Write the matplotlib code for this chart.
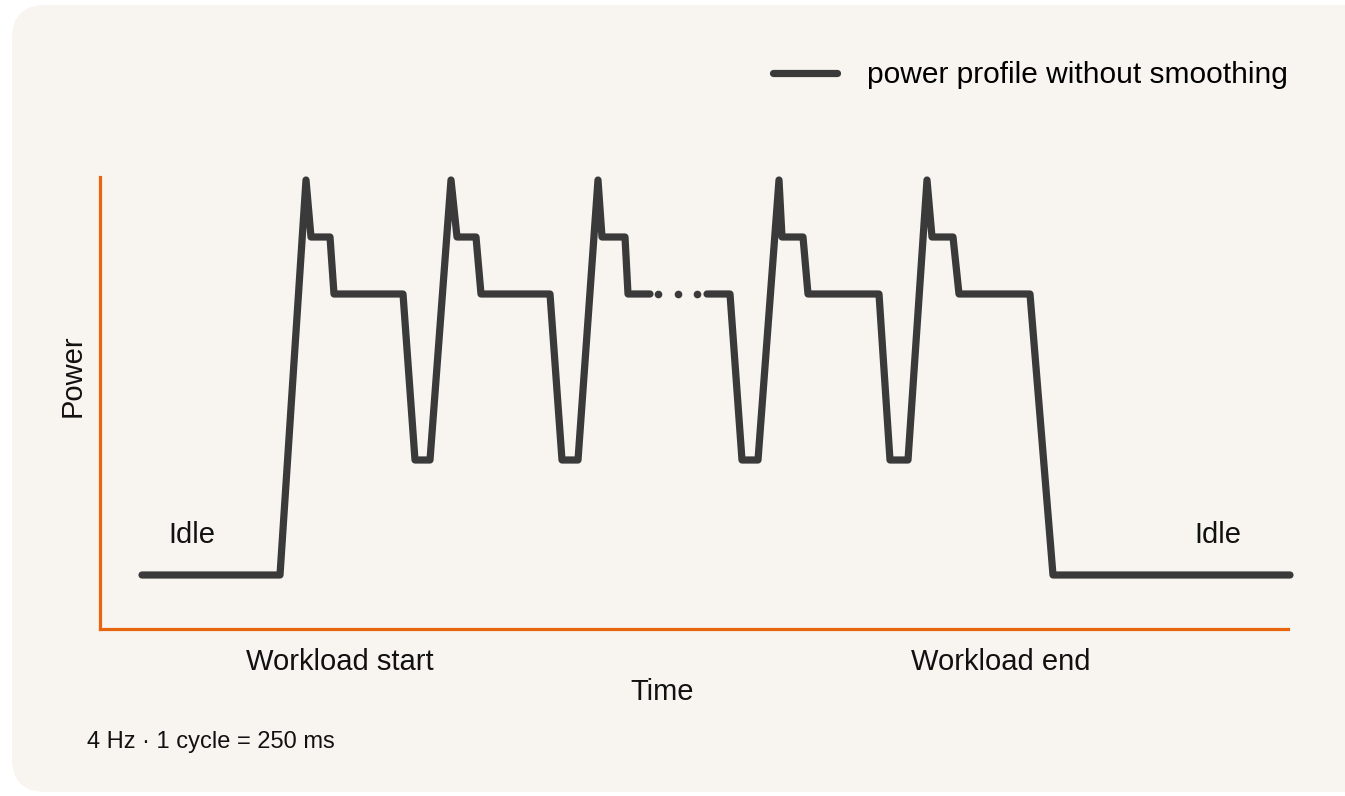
from matplotlib import pyplot as plt
from matplotlib.patches import FancyBboxPatch
import numpy as np

# power profile (time in arbitrary units, power in arbitrary units)
# nan = gap where the "..." dots go
time_pts = [42, 180, 206, 211, 230, 234, 303, 315, 330,
            351, 357, 376, 381, 450, 462, 478,
            498, 502, 525, 528, 550, np.nan,
            607, 630, 642, 658,
            679, 682, 703, 708, 779, 790, 808,
            827, 832, 853, 859, 930, 953, 1190]
power_pts = [54, 54, 449, 392, 392, 335, 335, 169, 169,
             449, 392, 392, 335, 335, 169, 169,
             449, 392, 392, 335, 335, np.nan,
             335, 335, 169, 169,
             449, 392, 392, 335, 335, 169, 169,
             449, 392, 392, 335, 335, 54, 54]
dot_time = [558, 578, 597]
dot_power = [335, 335, 335]

labels = ['Idle', 'Idle', 'Workload start', 'Workload end']
label_time = [92, 1118, 240, 901]
label_power = [94, 94, -33, -33]

series_name = 'power profile without smoothing'
note = '4 Hz \u00b7 1 cycle = 250 ms'


def main():
    plt.rcParams['font.family'] = ['Liberation Sans', 'DejaVu Sans']
    dark = '#3a3a3a'
    orange = '#e8650f'

    fig = plt.figure(figsize=(13.45, 7.96), dpi=100)
    fig.patch.set_facecolor('white')
    # card background with rounded corners, kept behind the axes
    card = FancyBboxPatch((12/1345, 4/796), 1.2, 1 - 9/796,
                          boxstyle='round,pad=0,rounding_size=0.025',
                          transform=fig.transFigure, facecolor='#f8f5f0',
                          edgecolor='none', mutation_aspect=1345/796, zorder=-10)
    fig.patches.append(card)

    ax = fig.add_axes([100/1345, 1 - 629/796, 1188/1345, 452/796])
    ax.set_zorder(1)
    ax.set_facecolor('none')
    ax.plot(time_pts, power_pts, color=dark, lw=5.2, solid_capstyle='round',
            solid_joinstyle='round', clip_on=False, label=series_name)
    ax.plot(dot_time, dot_power, 'o', color=dark, ms=5.5, mew=0, clip_on=False)

    ax.set_xlim(0, 1188)
    ax.set_ylim(0, 452)
    ax.set_xticks([])
    ax.set_yticks([])
    for s in ['top', 'right']:
        ax.spines[s].set_visible(False)
    for s in ['left', 'bottom']:
        ax.spines[s].set_color(orange)
        ax.spines[s].set_linewidth(2.3)

    for t, x, y in zip(labels, label_time, label_power):
        ax.text(x, y, t, ha='center', va='center', fontsize=21, color='#111111', clip_on=False)
    ax.text(562, -63, 'Time', ha='center', va='center', fontsize=21, color='#111111', clip_on=False)
    ax.text(-27, 253, 'Power', ha='center', va='center', rotation=90, fontsize=21,
            color='#111111', clip_on=False)

    leg = ax.legend(loc='center right', bbox_to_anchor=(1288/1345, 1 - 75/796),
                    bbox_transform=fig.transFigure, frameon=False, fontsize=21.5,
                    handlelength=2.15, handletextpad=1.0, borderpad=0, borderaxespad=0)
    for h in leg.get_lines():
        h.set_solid_capstyle('round')

    fig.text(87/1345, 1 - 742/796, note, ha='left', va='center', fontsize=17, color='#111111')

    fig.savefig('out.png', dpi=100, facecolor=fig.get_facecolor())


if __name__ == '__main__':
    main()
